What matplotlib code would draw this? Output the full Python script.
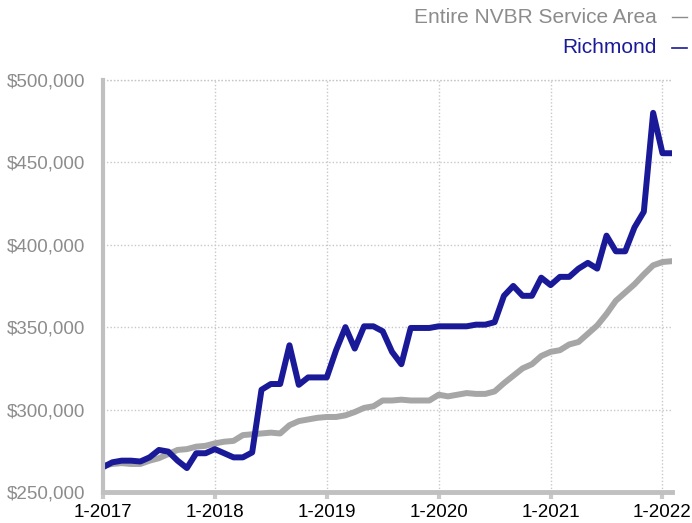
import matplotlib
matplotlib.use('Agg')
import matplotlib.pyplot as plt
import numpy as np

# monthly values, Jan 2017 .. Feb 2022 (thousands of $)
nvbr = [266, 267, 267.5, 267, 267, 269, 270.5, 273, 275.5, 276, 277.5, 278,
        279.5, 280.5, 281, 284.5, 285, 285.5, 286, 285.5, 290.5, 293, 294, 295,
        295.5, 295.5, 296.5, 298.5, 301, 302, 305.5, 305.5, 306, 305.5, 305.5, 305.5,
        309, 308, 309, 310, 309.5, 309.5, 311, 316, 320.5, 325, 327.5, 332.5,
        335, 336, 339.5, 341, 346, 351, 358, 366, 371, 376, 382, 387.5,
        389.5, 390]
richmond = [265, 268, 269, 269, 268.5, 271, 275.5, 274.5, 269, 264.5, 273.5, 273.5,
            276, 273.5, 271, 271, 274, 312, 315.5, 315.5, 339, 315, 319.5, 319.5,
            319.5, 336, 350, 337, 350.5, 350.5, 347.5, 335, 327.5, 349.5, 349.5, 349.5,
            350.5, 350.5, 350.5, 350.5, 351.5, 351.5, 353, 369, 375, 369, 369, 380,
            375.5, 380.5, 380.5, 385.5, 389, 385.5, 405.5, 396, 396, 410.5, 420, 480,
            455.5, 455.5]
year_labels = ['1-2017', '1-2018', '1-2019', '1-2020', '1-2021', '1-2022']
y_ticks = [250000, 300000, 350000, 400000, 450000, 500000]

plt.rcParams['font.family'] = ['Liberation Sans', 'DejaVu Sans']

fig = plt.figure(figsize=(6.92, 5.23), dpi=100)
ax = fig.add_axes([0.1488, 0.0593, 0.822, 0.788])

months = np.arange(len(richmond))
ax.plot(months, np.array(nvbr) * 1000, color='#a6a6a6', lw=4.3, solid_joinstyle='round')
ax.plot(months, np.array(richmond) * 1000, color='#1a1a99', lw=4.3, solid_joinstyle='round')

ax.set_xlim(0, 61)
ax.set_ylim(250000, 500000)
ax.set_xticks(np.arange(0, 61, 12))
ax.set_xticklabels(year_labels, fontsize=13.5, color='black')
ax.set_yticks(y_ticks)
ax.set_yticklabels(['${:,}'.format(v) for v in y_ticks], fontsize=13.5, color='#8c8c8c')
ax.tick_params(axis='y', length=0, pad=13)
ax.tick_params(axis='x', length=5, width=3, color='#c8c8c8', pad=3.5)

ax.grid(True, linestyle=(0, (1, 1.5)), color='#c8c8c8', lw=1)
for s in ['top', 'right']:
    ax.spines[s].set_visible(False)
ax.spines['left'].set_color('#c0c0c0')
ax.spines['left'].set_linewidth(3)
ax.spines['bottom'].set_color('#c0c0c0')
ax.spines['bottom'].set_linewidth(3.5)
ax.axhline(500000, color='#c8c8c8', lw=1, linestyle=(0, (1, 1.5)), clip_on=False)

fig.text(0.949, 0.967, 'Entire NVBR Service Area', color='#8c8c8c', fontsize=15,
         ha='right', va='center')
fig.text(0.949, 0.909, 'Richmond', color='#1a1a99', fontsize=15, ha='right', va='center')
fig.lines.append(plt.Line2D([0.971, 0.993], [0.967, 0.967], color='#8c8c8c', lw=1,
                            transform=fig.transFigure))
fig.lines.append(plt.Line2D([0.971, 0.993], [0.909, 0.909], color='#1a1a99', lw=1.2,
                            transform=fig.transFigure))

fig.savefig('out.png', dpi=100)
